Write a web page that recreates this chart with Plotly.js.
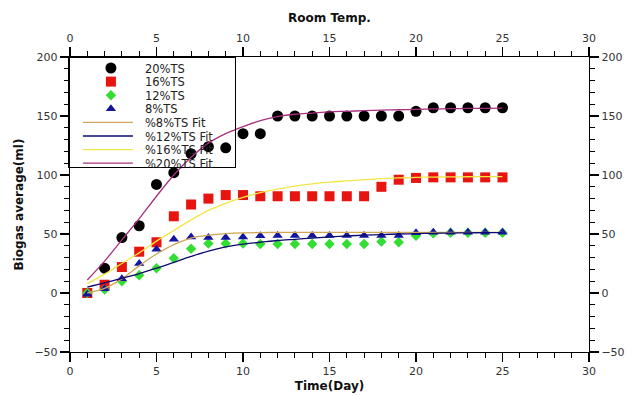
<!DOCTYPE html>
<html>
<head>
<meta charset="utf-8">
<script src="https://cdn.plot.ly/plotly-3.0.1.min.js"></script>
<style>html,body{margin:0;padding:0;background:#fff;}#chart{width:638px;height:396px;}</style>
</head>
<body>
<div id="chart"></div>
<script>
const days = [1,2,3,4,5,6,7,8,9,10,11,12,13,14,15,16,17,18,19,20,21,22,23,24,25];
const ts20 = [null,21,47,57,92,102,118,124,123,135,135,150,150,150,150,150,150,150,150,154,157,157,157,157,157];
const ts16 = [0,7,22,35,43,65,75,80,83,83,82,82,82,82,82,82,82,90,96,97.5,98,98,98,98,98];
const ts12 = [0,3,10,15,21,29.5,37.5,42,42,42,41.5,41.5,41.5,41.5,41.5,41.5,41.5,43.5,43,48.5,50.5,51,51,51,51];
const ts8  = [-1,3.5,12,25,37,45.5,47.5,47,47,47.5,48.5,48.8,48.8,48.8,48.8,48.8,48.8,48.8,48.8,51,51.5,51.5,51.5,51.5,51.5];
const fit8  = [0,4,12,23,33,41,46.5,49,50.3,51,51.2,51.3,51.3,51.3,51.3,51.3,51.3,51.3,51.3,51.3,51.3,51.3,51.3,51.3,51.3];
const fit12 = [5,8.5,12.5,16.5,21,26,31,35.5,39,41.5,43,44.5,45.5,46.5,47.5,48.3,49,49.5,50,50.3,50.6,50.8,51,51.1,51.2];
const fit16 = [8,16,25,34,44,53,62,70,76,81,85,88,90.5,92.5,94,95,96,97,97.5,98,98.2,98.4,98.5,98.6,98.7];
const fit20 = [11,27,45,63,82,100,115,127,135,141,146,149.5,151.5,152.5,153.5,154,154.5,155,155.3,155.6,156,156.2,156.4,156.5,156.6];
const seriesNames = ['20%TS','16%TS','12%TS','8%TS'];
const fitNames = ['%8%TS Fit','%12%TS Fit','%16%TS Fit','%20%TS Fit'];
const xTitle = 'Time(Day)';
const x2Title = 'Room Temp.';
const yTitle = 'Biogas average(ml)';

const fnt = 'DejaVu Sans, Verdana, sans-serif';
const traces = [
  {x: days, y: ts20, name: seriesNames[0], mode: 'markers', type: 'scatter',
   marker: {symbol: 'circle', size: 11, color: '#000000'}},
  {x: days, y: ts16, name: seriesNames[1], mode: 'markers', type: 'scatter',
   marker: {symbol: 'square', size: 10, color: '#e8140f'}},
  {x: days, y: ts12, name: seriesNames[2], mode: 'markers', type: 'scatter',
   marker: {symbol: 'diamond', size: 8, color: '#33dd33'}},
  {x: days, y: ts8, name: seriesNames[3], mode: 'markers', type: 'scatter',
   marker: {symbol: 'triangle-up', size: 9, color: '#1414a0'}},
  {x: days, y: fit8, name: fitNames[0], mode: 'lines', type: 'scatter', line: {color: '#cfa658', width: 1.3, shape: 'spline'}},
  {x: days, y: fit12, name: fitNames[1], mode: 'lines', type: 'scatter', line: {color: '#0a0a70', width: 1.3, shape: 'spline'}},
  {x: days, y: fit16, name: fitNames[2], mode: 'lines', type: 'scatter', line: {color: '#f2e645', width: 1.3, shape: 'spline'}},
  {x: days, y: fit20, name: fitNames[3], mode: 'lines', type: 'scatter', line: {color: '#a8307f', width: 1.3, shape: 'spline'}},
  // empty carrier so the top and right axes are drawn
  {x: [null], y: [null], xaxis: 'x2', yaxis: 'y2', mode: 'markers', type: 'scatter', showlegend: false, hoverinfo: 'skip'}
];

const axBase = {
  showgrid: false, zeroline: false, showline: true, linecolor: '#000', linewidth: 1.2,
  ticks: 'outside', ticklen: 9, tickwidth: 1.2, tickcolor: '#000',
  tickfont: {family: fnt, size: 11, color: '#333'},
  minor: {ticks: 'outside', ticklen: 5, tickwidth: 1, tickcolor: '#000'}
};

const layout = {
  width: 638, height: 396,
  margin: {l: 70, r: 49, t: 57, b: 44},
  paper_bgcolor: '#fff', plot_bgcolor: '#fff',
  showlegend: true,
  legend: {x: -0.004, y: 1, xanchor: 'left', yanchor: 'top',
    bgcolor: 'rgba(255,255,255,0)', bordercolor: '#000', borderwidth: 1,
    font: {family: fnt, size: 11.5, color: '#222'}, itemwidth: 66, tracegroupgap: 0},
  xaxis: Object.assign({}, axBase, {range: [0, 30], dtick: 5, tick0: 0,
    minor: Object.assign({}, axBase.minor, {dtick: 1}),
    title: {text: '<b>' + xTitle + '</b>', font: {family: fnt, size: 12, color: '#111'}, standoff: 4}}),
  xaxis2: Object.assign({}, axBase, {range: [0, 30], dtick: 5, tick0: 0, overlaying: 'x', side: 'top', anchor: 'y',
    minor: Object.assign({}, axBase.minor, {dtick: 1}),
    title: {text: '<b>' + x2Title + '</b>', font: {family: fnt, size: 12, color: '#111'}, standoff: 7}}),
  yaxis: Object.assign({}, axBase, {range: [-50, 200], dtick: 50, tick0: 0,
    minor: Object.assign({}, axBase.minor, {dtick: 10}),
    title: {text: '<b>' + yTitle + '</b>', font: {family: fnt, size: 12, color: '#111'}, standoff: 8}}),
  yaxis2: Object.assign({}, axBase, {range: [-50, 200], dtick: 50, tick0: 0, overlaying: 'y', side: 'right', anchor: 'x',
    minor: Object.assign({}, axBase.minor, {dtick: 10})})
};

Plotly.newPlot('chart', traces, layout, {displayModeBar: false, staticPlot: true}).then(function (gd) {
  // compact the legend rows to match the reference spacing
  const items = gd.querySelectorAll('.legend .traces');
  const step = 13.6, first = 11;
  items.forEach(function (it, i) {
    const m = /translate\(([-\d.]+)[ ,]+([-\d.]+)\)/.exec(it.getAttribute('transform') || '');
    const tx = m ? parseFloat(m[1]) : 0;
    it.setAttribute('transform', 'translate(' + tx + ',' + (first + i * step) + ')');
    const ln = it.querySelector('.legendlines path');
    if (ln) ln.setAttribute('d', 'M14,0h50');
    const pts = it.querySelector('.legendpoints');
    if (pts) pts.setAttribute('transform', 'translate(4,0)');
  });
  const bg = gd.querySelector('.legend .bg');
  if (bg) { bg.setAttribute('height', 110); bg.setAttribute('width', 167); }
});
</script>
</body>
</html>
